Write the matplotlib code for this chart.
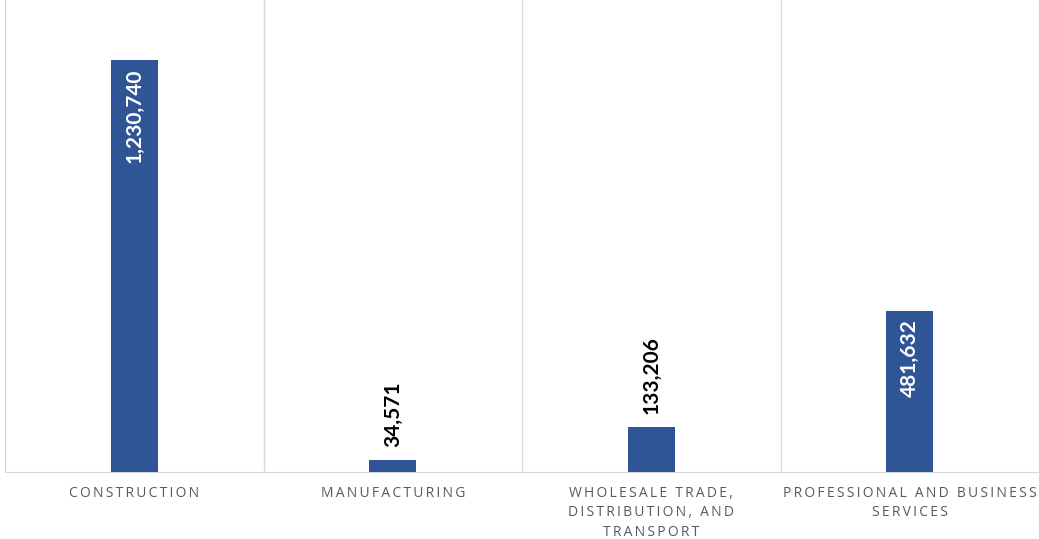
import matplotlib.pyplot as plt

# data
categories = ["CONSTRUCTION", "MANUFACTURING",
              "WHOLESALE TRADE,\nDISTRIBUTION, AND\nTRANSPORT",
              "PROFESSIONAL AND BUSINESS\nSERVICES"]
values = [1230740, 34571, 133206, 481632]

bar_color = "#2F5597"
grid_color = "#D9D9D9"
text_gray = "#595959"


def spaced(s):
    # imitate the wide letter spacing of the original labels
    return "\n".join("\u2009".join(line) for line in s.split("\n"))


fig = plt.figure(figsize=(10.39, 5.39), dpi=100)
ax = fig.add_axes([5 / 1039, 67 / 539, 1 - 5 / 1039, 1 - 67 / 539])

x = range(len(categories))
bars = ax.bar(x, values, width=0.18, color=bar_color, zorder=3)

ax.set_xlim(-0.5, len(categories) - 0.5)
ax.set_ylim(0, 1410000)

# vertical gridlines between categories
for b in [-0.5, 0.5, 1.5, 2.5]:
    ax.axvline(b, color=grid_color, linewidth=1, zorder=1)

for s in ["top", "right", "left"]:
    ax.spines[s].set_visible(False)
ax.spines["bottom"].set_color(grid_color)
ax.set_yticks([])
ax.set_xticks(list(x))
ax.set_xticklabels([spaced(c) for c in categories], color=text_gray,
                   fontsize=10, family=["Open Sans", "DejaVu Sans"],
                   linespacing=1.4)
ax.tick_params(axis="x", length=0, pad=10)

# value labels: inside the tall bars, above the short ones
for xi, v in zip(x, values):
    label = f"{v:,}"
    if v > 300000:
        ax.text(xi, v - 25000, label, rotation=90, ha="center", va="top",
                color="white", fontsize=15, fontweight="bold", family="Lato",
                zorder=4)
    else:
        ax.text(xi, v + 40000, label, rotation=90, ha="center", va="bottom",
                color="black", fontsize=15, fontweight="bold", family="Lato",
                zorder=4)

fig.savefig("out.png", dpi=100)
